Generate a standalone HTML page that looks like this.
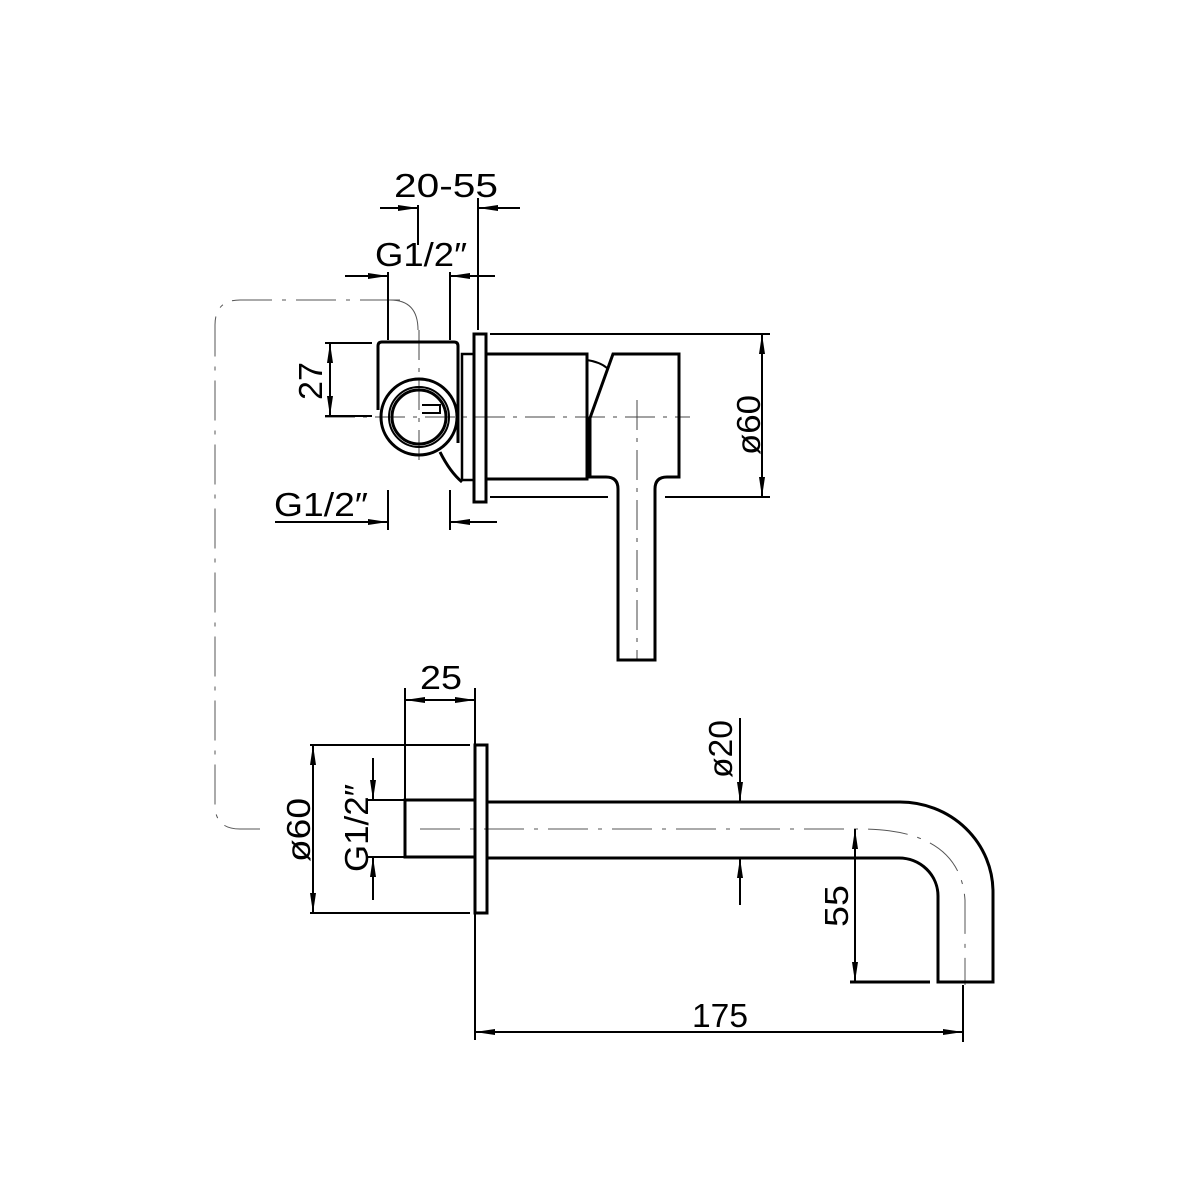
<!DOCTYPE html>
<html><head><meta charset="utf-8"><style>
html,body{margin:0;padding:0;background:#fff}
svg{display:block}
text{font-family:"Liberation Sans",sans-serif;font-size:33px;fill:#000}
</style></head><body>
<svg width="1200" height="1200" viewBox="0 0 1200 1200" xmlns="http://www.w3.org/2000/svg">
<defs>
<marker id="a" viewBox="0 0 20 8" refX="20" refY="4" markerWidth="20" markerHeight="8" markerUnits="userSpaceOnUse" orient="auto-start-reverse"><path d="M0,1 L20,4 L0,7 z" fill="#000"/></marker>
</defs>
<g fill="none" stroke="#000">
<path d="M400,300 H240 Q215,300 215,325 V805 Q215,829 240,829 H260" stroke-width="1" stroke-dasharray="40,10,4,10" stroke="#555"/>
<path d="M390,300 Q418,300 418,330" stroke-width="1" stroke="#555"/>
<path d="M325,417 H690" stroke-width="1" stroke-dasharray="30,8,4,8" stroke="#444"/>
<path d="M419,330 V460" stroke-width="1" stroke-dasharray="30,8,4,8" stroke="#444"/>
<path d="M637,400 V660" stroke-width="1" stroke-dasharray="30,8,4,8" stroke="#444"/>
<g stroke-width="3">
<path d="M378,410 V346 Q378,342 382,342 H454 Q458,342 458,346 V443"/>
<circle cx="419" cy="417" r="38"/>
<path d="M440,452 Q450,472 462,482"/>
<rect x="462" y="354" width="12" height="126" stroke-width="2.5"/>
<rect x="474" y="334" width="12" height="168"/>
<rect x="486" y="354" width="101" height="125"/>
<path d="M613,354 H679 V477 H667 Q655,477 655,489 V660 H618 V489 Q618,477 606,477 H590 V418 Z"/>
<path d="M587,360 Q600,362 607,368" stroke-width="2"/>
</g>
<circle cx="419" cy="417" r="30" stroke-width="2"/>
<circle cx="419" cy="417" r="27" stroke-width="3"/>
<path d="M422,405 H440 V413 H422" stroke-width="2"/>
<g stroke-width="2">
<path d="M418,205 V245"/><path d="M478,198 V330"/>
<path d="M380,208 H418" marker-end="url(#a)"/><path d="M520,208 H478" marker-end="url(#a)"/>
<path d="M388,272 V340"/><path d="M450,272 V340"/>
<path d="M345,276 H388" marker-end="url(#a)"/><path d="M495,276 H450" marker-end="url(#a)"/>
<path d="M325,343 H372"/><path d="M325,416 H372"/>
<path d="M330,343 V416" marker-start="url(#a)" marker-end="url(#a)"/>
<path d="M490,334 H770"/><path d="M490,497 H608"/><path d="M665,497 H770"/>
<path d="M762,334 V497" marker-start="url(#a)" marker-end="url(#a)"/>
<path d="M388,490 V530"/><path d="M450,490 V530"/>
<path d="M275,522 H388" marker-end="url(#a)"/><path d="M497,522 H450" marker-end="url(#a)"/>
</g>
<path d="M420,829 H860 Q960,829 965,900 V985" stroke-width="1" stroke-dasharray="40,10,4,10" stroke="#555"/>
<g stroke-width="3">
<rect x="475" y="745" width="12" height="168"/>
<rect x="405" y="800" width="70" height="57"/>
<path d="M487,802 H900 A93,90 0 0 1 993,892 V982 H938 V896 A39,38 0 0 0 899,858 H487"/>
<path d="M850,982 H930"/>
</g>
<g stroke-width="2">
<path d="M405,688 V800"/><path d="M475,688 V745"/><path d="M475,913 V1040"/>
<path d="M405,700 H475" marker-start="url(#a)" marker-end="url(#a)"/>
<path d="M310,745 H470"/><path d="M310,913 H470"/>
<path d="M313,745 V913" marker-start="url(#a)" marker-end="url(#a)"/>
<path d="M368,800 H405"/><path d="M368,857 H405"/>
<path d="M373,758 V800" marker-end="url(#a)"/><path d="M373,900 V857" marker-end="url(#a)"/>
<path d="M740,718 V802" marker-end="url(#a)"/><path d="M740,905 V858" marker-end="url(#a)"/>
<path d="M855,829 V982" marker-start="url(#a)" marker-end="url(#a)"/>
<path d="M963,985 V1042"/>
<path d="M475,1032 H963" marker-start="url(#a)" marker-end="url(#a)"/>
</g>
</g>
<g>
<text x="394" y="197" textLength="104" lengthAdjust="spacingAndGlyphs">20-55</text>
<text x="375" y="266" textLength="92" lengthAdjust="spacingAndGlyphs">G1/2″</text>
<text x="274" y="516" textLength="94" lengthAdjust="spacingAndGlyphs">G1/2″</text>
<text transform="translate(322,400) rotate(-90)" textLength="38" lengthAdjust="spacingAndGlyphs">27</text>
<text transform="translate(760,455) rotate(-90)" textLength="60" lengthAdjust="spacingAndGlyphs">ø60</text>
<text x="420" y="689" textLength="42" lengthAdjust="spacingAndGlyphs">25</text>
<text transform="translate(310,862) rotate(-90)" textLength="64" lengthAdjust="spacingAndGlyphs">ø60</text>
<text transform="translate(368,872) rotate(-90)" textLength="88" lengthAdjust="spacingAndGlyphs">G1/2″</text>
<text transform="translate(732,778) rotate(-90)" textLength="58" lengthAdjust="spacingAndGlyphs">ø20</text>
<text transform="translate(848,927) rotate(-90)" textLength="42" lengthAdjust="spacingAndGlyphs">55</text>
<text x="692" y="1027" textLength="56" lengthAdjust="spacingAndGlyphs">175</text>
</g>
</svg>
</body></html>
